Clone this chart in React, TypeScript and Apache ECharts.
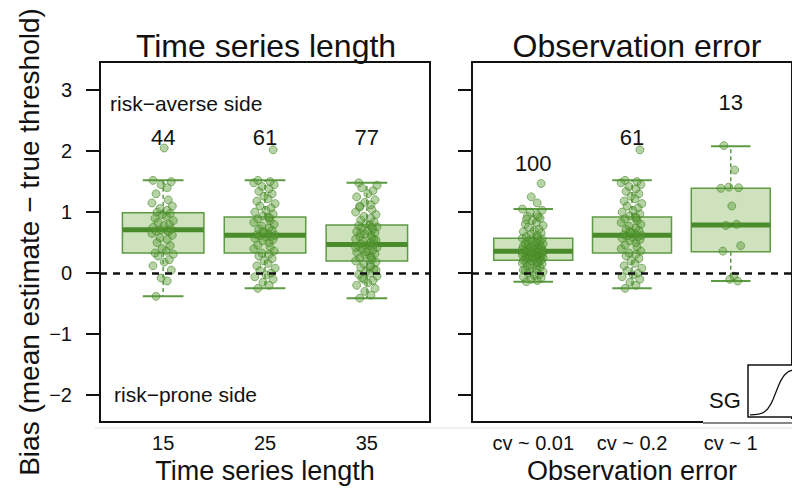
import React, { useEffect, useRef } from "react";
import * as echarts from "echarts";

// ---------- data ----------
const TSL_CATEGORIES = ["15", "25", "35"];
const OBS_CATEGORIES = ["cv ~ 0.01", "cv ~ 0.2", "cv ~ 1"];
const Y_TICKS = [-2, -1, 0, 1, 2, 3];

// box stats: [whisker low, Q1, median, Q3, whisker high]
const TSL_BOXES = [
  [-0.38, 0.33, 0.71, 0.99, 1.52],
  [-0.25, 0.33, 0.62, 0.92, 1.52],
  [-0.41, 0.2, 0.47, 0.79, 1.48],
];
const OBS_BOXES = [
  [-0.14, 0.21, 0.36, 0.57, 1.05],
  [-0.25, 0.33, 0.62, 0.92, 1.52],
  [-0.13, 0.35, 0.79, 1.39, 2.08],
];

const TSL_COUNTS = [44, 61, 77];
const OBS_COUNTS = [100, 61, 13];
const TSL_COUNT_Y = [2.23, 2.23, 2.23];
const OBS_COUNT_Y = [1.8, 2.23, 2.8];

const PTS_15 = [-0.38, -0.13, -0.08, 0.05, 0.12, 0.18, 0.22, 0.28, 0.31, 0.33, 0.36, 0.4, 0.45, 0.5, 0.55, 0.58, 0.62, 0.65, 0.68, 0.69, 0.7, 0.71, 0.72, 0.75, 0.78, 0.8, 0.83, 0.86, 0.9, 0.93, 0.96, 0.98, 1.0, 1.03, 1.06, 1.1, 1.15, 1.2, 1.3, 1.4, 1.45, 1.5, 1.52, 2.05];
const PTS_25 = [-0.25, -0.2, -0.15, -0.1, -0.06, -0.03, 0.0, 0.04, 0.08, 0.12, 0.16, 0.2, 0.24, 0.28, 0.31, 0.33, 0.36, 0.4, 0.43, 0.46, 0.5, 0.53, 0.55, 0.57, 0.59, 0.6, 0.61, 0.62, 0.63, 0.65, 0.67, 0.7, 0.72, 0.74, 0.77, 0.8, 0.83, 0.86, 0.89, 0.92, 0.94, 0.97, 1.0, 1.03, 1.07, 1.1, 1.14, 1.18, 1.22, 1.26, 1.3, 1.34, 1.38, 1.42, 1.45, 1.48, 1.5, 1.52, 0.9, 0.68, 2.02];
const PTS_35 = [-0.41, -0.36, -0.3, -0.25, -0.2, -0.16, -0.12, -0.08, -0.05, -0.02, 0.0, 0.03, 0.06, 0.09, 0.12, 0.15, 0.18, 0.2, 0.22, 0.25, 0.28, 0.3, 0.32, 0.34, 0.36, 0.38, 0.4, 0.42, 0.44, 0.45, 0.46, 0.47, 0.48, 0.5, 0.52, 0.54, 0.56, 0.58, 0.6, 0.62, 0.64, 0.66, 0.68, 0.7, 0.72, 0.74, 0.76, 0.78, 0.79, 0.81, 0.84, 0.87, 0.9, 0.93, 0.96, 1.0, 1.04, 1.08, 1.12, 1.16, 1.2, 1.25, 1.3, 1.35, 1.4, 1.44, 1.48, 0.1, 0.35, 0.55, 0.65, 0.25, -0.1, 0.05, 0.42, 0.75, 1.1];
const PTS_CV001 = [-0.14, -0.12, -0.1, -0.08, -0.06, -0.04, -0.02, 0.0, 0.02, 0.04, 0.06, 0.08, 0.1, 0.11, 0.12, 0.14, 0.15, 0.16, 0.17, 0.18, 0.19, 0.2, 0.21, 0.21, 0.22, 0.23, 0.24, 0.25, 0.25, 0.26, 0.27, 0.27, 0.28, 0.29, 0.29, 0.3, 0.3, 0.31, 0.31, 0.32, 0.32, 0.33, 0.33, 0.34, 0.34, 0.35, 0.35, 0.36, 0.36, 0.36, 0.37, 0.37, 0.38, 0.38, 0.39, 0.39, 0.4, 0.4, 0.41, 0.42, 0.43, 0.44, 0.45, 0.46, 0.47, 0.48, 0.49, 0.5, 0.51, 0.52, 0.53, 0.54, 0.55, 0.56, 0.57, 0.58, 0.6, 0.62, 0.64, 0.66, 0.68, 0.7, 0.72, 0.75, 0.78, 0.8, 0.83, 0.86, 0.9, 0.93, 0.96, 1.0, 1.03, 1.05, 0.92, 0.88, 1.15, 1.25, 1.47, 0.05];
const PTS_CV02 = PTS_25;
const PTS_CV1 = [2.09, 1.69, 1.41, 1.4, 1.39, 1.1, 0.8, 0.78, 0.45, 0.36, -0.05, -0.1, -0.13];

const TSL_POINTS = [PTS_15, PTS_25, PTS_35];
const OBS_POINTS = [PTS_CV001, PTS_CV02, PTS_CV1];

// fixed horizontal spread pattern for the strip points (category units)
const SPREAD = [-0.07, 0.04, -0.02, 0.08, -0.1, 0.01, 0.06, -0.05, 0.1, -0.08, 0.03, -0.01, 0.07, -0.06, 0.04, -0.03, 0.09, -0.11, 0.05];

// ---------- style ----------
const FONT = "'Liberation Sans', Arial, Helvetica, sans-serif";
const BOX_FILL = "#cde2bd";
const BOX_STROKE = "#5d9a43";
const MEDIAN = "#4a8b2c";
const INK = "#111111";

const minus = (s: string) => s.replace(/-/g, "\u2212");

function boxRender(params: any, api: any) {
  const x = api.value(0);
  const lo = api.coord([x, api.value(1)]);
  const q1 = api.coord([x, api.value(2)]);
  const md = api.coord([x, api.value(3)]);
  const q3 = api.coord([x, api.value(4)]);
  const hi = api.coord([x, api.value(5)]);
  const half = api.size([0.8, 0])[0] / 2;
  const cap = half / 2;
  const cx = md[0];
  const wStyle = { stroke: BOX_STROKE, lineWidth: 1.5, lineDash: [4, 3] };
  const cStyle = { stroke: BOX_STROKE, lineWidth: 2 };
  return {
    type: "group",
    children: [
      { type: "line", shape: { x1: cx, y1: q3[1], x2: cx, y2: hi[1] }, style: wStyle },
      { type: "line", shape: { x1: cx, y1: q1[1], x2: cx, y2: lo[1] }, style: wStyle },
      { type: "line", shape: { x1: cx - cap, y1: hi[1], x2: cx + cap, y2: hi[1] }, style: cStyle },
      { type: "line", shape: { x1: cx - cap, y1: lo[1], x2: cx + cap, y2: lo[1] }, style: cStyle },
      {
        type: "rect",
        shape: { x: cx - half, y: q3[1], width: half * 2, height: q1[1] - q3[1] },
        style: { fill: BOX_FILL, stroke: BOX_STROKE, lineWidth: 1.5 },
      },
      { type: "line", shape: { x1: cx - half, y1: md[1], x2: cx + half, y2: md[1] }, style: { stroke: MEDIAN, lineWidth: 5 } },
    ],
  };
}

function panelSeries(idx: number, boxes: number[][], points: number[][], counts: number[], countY: number[]) {
  return [
    {
      type: "custom",
      xAxisIndex: idx,
      yAxisIndex: idx,
      renderItem: boxRender,
      encode: { x: 0, y: [1, 2, 3, 4, 5] },
      data: boxes.map((b, i) => [i + 1, ...b]),
      z: 2,
      silent: true,
    },
    {
      type: "scatter",
      xAxisIndex: idx,
      yAxisIndex: idx,
      symbolSize: 8,
      itemStyle: { color: "rgba(88,155,52,0.55)", borderColor: "rgba(68,132,38,0.7)", borderWidth: 1 },
      data: points.flatMap((vals, i) => vals.map((v, j) => [i + 1 + SPREAD[j % SPREAD.length], v])),
      z: 3,
      silent: true,
      markLine: {
        silent: true,
        symbol: "none",
        label: { show: false },
        lineStyle: { type: [7, 6], color: INK, width: 2.5 },
        data: [{ yAxis: 0 }],
      },
    },
    {
      type: "scatter",
      xAxisIndex: idx,
      yAxisIndex: idx,
      symbol: "circle",
      symbolSize: 0,
      itemStyle: { color: INK, opacity: 1 },
      label: {
        show: true,
        position: "inside",
        formatter: (p: any) => String(p.data[2]),
        color: INK,
        opacity: 1,
        fontSize: 22,
        fontFamily: FONT,
      },
      data: counts.map((c, i) => [i + 1, countY[i], c]),
      z: 4,
      silent: true,
    },
  ];
}

function sigmoidPoints() {
  const pts: number[][] = [];
  for (let x = 750; x <= 800; x += 1) {
    pts.push([x, 415 - 46 / (1 + Math.exp(-(x - 776) / 4.5))]);
  }
  return pts;
}

export default function App() {
  const ref = useRef<HTMLDivElement>(null);
  useEffect(() => {
    if (!ref.current) return;
    const chart = echarts.init(ref.current, null, { renderer: "svg" });
    const grid = (left: number) => ({
      left,
      top: 62,
      width: 330,
      height: 360,
      show: true,
      borderColor: INK,
      borderWidth: 2,
      backgroundColor: "transparent",
    });
    const xAxis = (idx: number, cats: string[], name: string) => ({
      type: "value",
      gridIndex: idx,
      min: 0.38,
      max: 3.62,
      axisLine: { show: false },
      axisTick: { show: false },
      splitLine: { show: false },
      axisLabel: {
        customValues: [1, 2, 3],
        formatter: (v: number) => cats[Math.round(v) - 1] ?? "",
        fontSize: 20,
        color: INK,
        fontFamily: FONT,
        margin: 11,
      },
      name,
      nameLocation: "middle",
      nameGap: 35,
      nameTextStyle: { fontSize: 27, color: INK, fontFamily: FONT },
    });
    const yAxis = (idx: number, showLabels: boolean) => ({
      type: "value",
      gridIndex: idx,
      min: -2.44,
      max: 3.46,
      axisLine: { show: false },
      splitLine: { show: false },
      axisTick: {
        show: true,
        customValues: Y_TICKS,
        length: 14,
        lineStyle: { color: INK, width: 2 },
      },
      axisLabel: {
        show: showLabels,
        customValues: Y_TICKS,
        formatter: (v: number) => minus(String(v)),
        fontSize: 20,
        color: INK,
        fontFamily: FONT,
        margin: 28,
      },
      name: showLabels ? "Bias (mean estimate \u2212 true threshold)" : "",
      nameLocation: "middle",
      nameRotate: 90,
      nameGap: 57,
      nameTextStyle: { fontSize: 28, color: INK, fontFamily: FONT },
    });

    chart.setOption({
      animation: false,
      backgroundColor: "#ffffff",
      grid: [grid(100), grid(472)],
      xAxis: [xAxis(0, TSL_CATEGORIES, "Time series length"), xAxis(1, OBS_CATEGORIES, "Observation error")],
      yAxis: [yAxis(0, true), yAxis(1, false)],
      series: [
        ...panelSeries(0, TSL_BOXES, TSL_POINTS, TSL_COUNTS, TSL_COUNT_Y),
        ...panelSeries(1, OBS_BOXES, OBS_POINTS, OBS_COUNTS, OBS_COUNT_Y),
      ],
      graphic: [
        { type: "text", x: 266, y: 46, style: { text: "Time series length", fontSize: 32, fontFamily: FONT, fill: INK, textAlign: "center", textVerticalAlign: "middle" } },
        { type: "text", x: 637, y: 46, style: { text: "Observation error", fontSize: 32, fontFamily: FONT, fill: INK, textAlign: "center", textVerticalAlign: "middle" } },
        { type: "text", x: 110, y: 103, style: { text: minus("risk-averse side"), fontSize: 21, fontFamily: FONT, fill: INK, textAlign: "left", textVerticalAlign: "middle" } },
        { type: "text", x: 114, y: 394, style: { text: minus("risk-prone side"), fontSize: 21, fontFamily: FONT, fill: INK, textAlign: "left", textVerticalAlign: "middle" } },
        { type: "line", shape: { x1: 95, y1: 428, x2: 792, y2: 428 }, style: { stroke: "#e2e2e2", lineWidth: 1 } },
        { type: "rect", shape: { x: 703, y: 419, width: 100, height: 6 }, style: { fill: "#ffffff" }, z: 50 },
        { type: "line", shape: { x1: 703, y1: 423, x2: 792, y2: 423 }, style: { stroke: INK, lineWidth: 1.2 }, z: 51 },
        { type: "rect", shape: { x: 748, y: 365, width: 80, height: 52 }, style: { fill: "#ffffff", stroke: INK, lineWidth: 1.5 }, z: 52 },
        { type: "polyline", shape: { points: sigmoidPoints() }, style: { stroke: INK, lineWidth: 1.3, fill: null }, z: 53 },
        { type: "text", x: 725, y: 400, style: { text: "SG", fontSize: 22, fontFamily: FONT, fill: INK, textAlign: "center", textVerticalAlign: "middle" }, z: 53 },
      ],
    });
    return () => chart.dispose();
  }, []);
  return <div ref={ref} style={{ position: "absolute", left: 0, top: 0, width: 792, height: 491 }} />;
}
